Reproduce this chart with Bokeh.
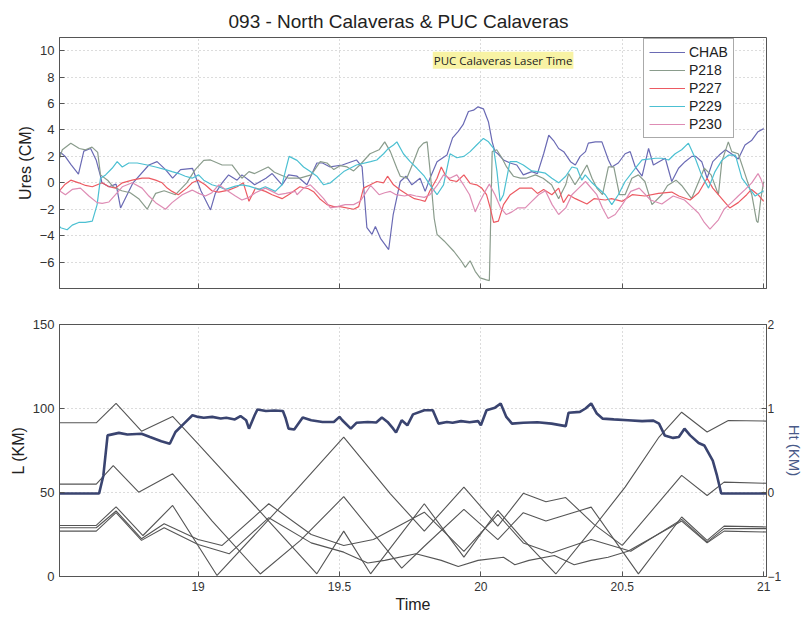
from bokeh.plotting import figure
from bokeh.layouts import column
from bokeh.models import Range1d, LinearAxis, FixedTicker, Label, Title
from bokeh.embed import file_html
from bokeh.resources import INLINE

# ---------------- data: top panel (Ures, cm) ----------------
chab_t = [18.51, 18.514, 18.53, 18.55, 18.577, 18.596, 18.62, 18.64, 18.655, 18.66, 18.685, 18.71, 18.726, 18.77, 18.826, 18.855,
          18.885, 18.91, 18.938, 18.98, 19.01, 19.044, 19.061, 19.085, 19.108, 19.138, 19.155, 19.18, 19.2, 19.24, 19.262, 19.297,
          19.32, 19.35, 19.385, 19.42, 19.44, 19.467, 19.51, 19.56, 19.58, 19.597, 19.615, 19.627, 19.645, 19.674, 19.69, 19.715,
          19.735, 19.756, 19.785, 19.803, 19.82, 19.845, 19.88, 19.90, 19.92, 19.937, 19.956, 19.974, 19.99, 20.009, 20.027,
          20.04, 20.05, 20.06, 20.08, 20.103, 20.127, 20.15, 20.18, 20.2, 20.222, 20.24, 20.257, 20.275, 20.293, 20.317, 20.334,
          20.351, 20.37, 20.38, 20.405, 20.428, 20.451, 20.463, 20.486, 20.51, 20.528, 20.546, 20.57, 20.593, 20.61, 20.63, 20.652,
          20.675, 20.699, 20.722, 20.746, 20.76, 20.781, 20.8, 20.82, 20.843, 20.865, 20.886, 20.91, 20.934, 20.957, 20.98, 21.0]
chab_u = [2.0, 2.3, 2.0, 1.4, 0.65, 2.4, 2.6, 1.7, 0.5, 0.0, -0.3, -0.1, -1.9, 0.0, 1.35, 1.6, 1.0, 0.35, 1.0, 1.1, -0.6, -2.05, -0.8,
          0.0, 0.6, 0.2, 0.6, 0.2, -0.15, 0.35, 0.7, -0.15, 0.6, 0.5, -0.15, 1.5, 1.5, 1.2, 1.35, 1.73, 1.2, -3.4, -3.9, -3.3, -4.2,
          -5.05, -2.4, 0.1, 0.5, -0.15, 0.35, -0.65, 0.35, 1.6, 2.1, 3.4, 3.9, 4.4, 5.4, 5.5, 5.75, 5.6, 4.6, 3.1, 2.36, 2.2, 1.73,
          1.5, 1.35, 0.6, 0.85, 0.7, 2.2, 3.6, 3.2, 2.6, 2.36, 1.6, 1.35, 2.0, 2.36, 3.0, 3.1, 3.1, 1.73, 1.2, 1.5, 2.2, 2.36, 1.2,
          0.5, 2.6, 1.35, 1.6, 1.86, 0.1, 1.1, 1.6, 2.0, 2.0, 1.6, 0.35, 1.6, 2.1, 2.5, 2.2, 1.8, 2.86, 3.2, 3.87, 4.1]

p218_t = [18.51, 18.52, 18.55, 18.58, 18.602, 18.625, 18.645, 18.655, 18.68, 18.7, 18.73, 18.76, 18.79, 18.82, 18.85, 18.88, 18.92,
          18.96, 18.99, 19.02, 19.044, 19.085, 19.12, 19.155, 19.18, 19.2, 19.248, 19.27, 19.32, 19.36, 19.4, 19.432, 19.456, 19.48,
          19.502, 19.527, 19.55, 19.572, 19.608, 19.64, 19.66, 19.68, 19.703, 19.715, 19.738, 19.762, 19.78, 19.797, 19.81, 19.82,
          19.835, 19.845, 19.87, 19.905, 19.93, 19.945, 19.962, 19.98, 19.997, 20.02, 20.03, 20.04, 20.056, 20.074, 20.091, 20.115,
          20.14, 20.16, 20.193, 20.22, 20.25, 20.275, 20.3, 20.31, 20.333, 20.355, 20.375, 20.393, 20.41, 20.43, 20.451, 20.47,
          20.49, 20.51, 20.534, 20.557, 20.58, 20.605, 20.64, 20.66, 20.69, 20.71, 20.745, 20.79, 20.814, 20.84, 20.852, 20.875,
          20.887, 20.91, 20.935, 20.958, 20.975, 20.98, 20.99, 21.0]
p218_u = [1.86, 2.5, 3.0, 2.6, 2.5, 2.7, 2.3, 0.6, 0.2, -0.3, -0.6, -0.75, -1.2, -2.0, -0.8, -0.6, -0.9, 0.0, 1.0, 1.7, 1.73, 1.35,
          1.35, 0.35, 0.85, 0.7, 1.2, 0.8, 0.35, 0.35, 0.6, 1.6, 1.5, 1.0, 1.3, 1.2, 0.9, 1.35, 2.2, 2.5, 3.1, 2.36, 1.1, 0.5, 0.35,
          1.6, 2.6, 3.0, 3.1, 1.0, -2.7, -3.9, -4.4, -5.2, -5.9, -6.4, -5.9, -6.7, -7.2, -7.35, -7.4, 2.36, 2.5, 1.9, 1.2, 0.5, 0.35,
          0.35, 0.6, 0.35, -0.15, -1.2, -0.15, 0.7, -0.15, 0.6, 1.35, 0.35, -0.4, -0.9, 1.2, 1.2, -0.9, -0.9, 0.35, 0.6, 0.1, -1.65,
          -0.9, -0.2, 0.2, -0.2, -1.2, 1.1, 0.6, -0.9, 1.6, 3.1, 2.36, 2.2, 0.6, -0.9, -2.9, -3.0, -1.2, 0.1]

p227_t = [18.51, 18.514, 18.53, 18.55, 18.578, 18.602, 18.626, 18.661, 18.685, 18.708, 18.732, 18.767, 18.802, 18.826, 18.85, 18.873,
          18.891, 18.908, 18.93, 18.96, 18.979, 19.0, 19.025, 19.049, 19.073, 19.108, 19.138, 19.16, 19.18, 19.203, 19.238, 19.262,
          19.297, 19.32, 19.36, 19.39, 19.41, 19.43, 19.456, 19.48, 19.502, 19.55, 19.568, 19.585, 19.609, 19.632, 19.656, 19.67,
          19.691, 19.715, 19.741, 19.765, 19.786, 19.803, 19.82, 19.845, 19.86, 19.874, 19.891, 19.915, 19.94, 19.962, 19.985,
          20.003, 20.02, 20.033, 20.045, 20.062, 20.08, 20.104, 20.138, 20.18, 20.18, 20.2, 20.222, 20.251, 20.275, 20.292, 20.31,
          20.334, 20.375, 20.4, 20.44, 20.462, 20.5, 20.535, 20.58, 20.628, 20.675, 20.7, 20.74, 20.77, 20.8, 20.82, 20.86, 20.88,
          20.91, 20.94, 20.957, 20.98, 21.0]
p227_u = [-0.6, -0.5, -0.1, 0.2, 0.0, -0.2, -0.3, 0.0, -0.3, -0.4, 0.0, 0.2, 0.35, 0.35, 0.2, 0.0, -0.4, -0.65, -0.9, -0.4, 0.0, 0.2,
          -0.15, -0.6, -0.7, -0.55, -0.3, 0.0, -1.4, -0.4, -0.65, -0.9, -1.2, -0.9, -0.3, -0.45, -0.7, -1.2, -1.65, -1.8, -1.8, -2.0,
          -1.8, -0.4, -0.15, 0.1, 0.0, 0.5, -0.15, -0.55, -0.9, -1.2, -1.3, -1.4, -0.6, 0.35, 1.2, 0.6, 0.2, 0.1, 0.6, -0.05, -0.15,
          -0.4, -0.9, -1.9, -3.0, -2.9, -1.65, -0.9, -0.4, -0.4, -0.4, -0.8, -0.5, -0.9, -0.4, -1.5, -0.9, -1.2, -1.6, -1.2, -1.3,
          -1.2, -1.4, -0.9, -1.0, -0.8, -0.7, -1.0, -1.3, -0.75, 0.35, -0.4, -1.4, -1.9, -1.5, -0.9, -0.5, -0.9, -1.4]

p229_t = [18.51, 18.514, 18.537, 18.555, 18.578, 18.601, 18.626, 18.643, 18.655, 18.673, 18.696, 18.714, 18.732, 18.755, 18.785,
          18.82, 18.85, 18.885, 18.908, 18.932, 18.955, 18.979, 19.002, 19.02, 19.049, 19.073, 19.097, 19.132, 19.155, 19.18,
          19.215, 19.238, 19.273, 19.297, 19.31, 19.322, 19.35, 19.373, 19.397, 19.42, 19.444, 19.468, 19.515, 19.56, 19.61,
          19.632, 19.656, 19.673, 19.691, 19.703, 19.726, 19.75, 19.774, 19.8, 19.82, 19.845, 19.868, 19.891, 19.915, 19.94, 19.962,
          19.985, 20.009, 20.027, 20.045, 20.057, 20.068, 20.08, 20.103, 20.127, 20.15, 20.18, 20.2, 20.228, 20.251, 20.275, 20.3,
          20.322, 20.34, 20.357, 20.369, 20.393, 20.44, 20.463, 20.486, 20.51, 20.55, 20.57, 20.618, 20.64, 20.664, 20.687,
          20.71, 20.734, 20.758, 20.78, 20.805, 20.828, 20.852, 20.876, 20.9, 20.923, 20.97, 21.0]
p229_u = [-3.3, -3.4, -3.55, -3.2, -3.0, -3.0, -2.9, -1.65, 0.35, 0.6, 1.1, 1.6, 1.2, 1.5, 1.5, 1.35, 1.2, 1.0, 0.85, 0.7, 0.5, 0.35,
          0.6, 0.2, -0.15, -0.3, -0.5, -0.25, -0.15, -0.25, -0.5, -0.3, -0.65, -0.15, 1.0, 2.0, 1.7, 1.2, 0.85, 0.5, -0.15, 0.0,
          0.85, 1.35, 1.6, 1.73, 2.2, 2.6, 2.86, 3.1, 2.2, 1.6, 1.1, 0.5, -0.15, -0.9, -0.15, 2.2, 1.9, 2.0, 2.36, 2.86, 3.36, 3.1,
          2.6, 0.85, -1.4, -0.9, 1.6, 1.6, 1.35, 0.9, 0.85, 0.73, 0.35, 0.0, 0.5, 1.2, 1.1, 0.2, 0.6, 0.0, -0.9, -1.65, -0.9, 0.1,
          1.2, 1.73, 1.86, 1.86, 1.73, 2.2, 2.5, 3.0, 1.86, 0.6, -0.4, 0.85, 1.7, 2.1, 2.1, 0.35, -1.0, -0.6, -0.3, -0.2, 0.2, 0.1,
          0.2]

p230_t = [18.51, 18.514, 18.531, 18.555, 18.584, 18.614, 18.643, 18.661, 18.685, 18.708, 18.732, 18.767, 18.802, 18.826, 18.85,
          18.885, 18.908, 18.944, 18.979, 19.002, 19.026, 19.049, 19.073, 19.097, 19.132, 19.155, 19.18, 19.203, 19.238, 19.262,
          19.285, 19.31, 19.344, 19.35, 19.373, 19.397, 19.42, 19.444, 19.468, 19.492, 19.52, 19.55, 19.573, 19.61, 19.64, 19.66,
          19.68, 19.7, 19.73, 19.75, 19.77, 19.8, 19.82, 19.845, 19.868, 19.89, 19.915, 19.94, 19.96, 19.98, 19.997, 20.015, 20.03,
          20.05, 20.07, 20.09, 20.11, 20.13, 20.157, 20.18, 20.204, 20.228, 20.252, 20.275, 20.3, 20.322, 20.346, 20.37, 20.41,
          20.43, 20.45, 20.475, 20.5, 20.53, 20.56, 20.6, 20.64, 20.68, 20.72, 20.745, 20.77, 20.79, 20.81, 20.84, 20.86, 20.886,
          20.91, 20.935, 20.958, 20.98, 20.99, 21.0]
p230_u = [-0.5, -0.65, -0.9, -0.5, -0.4, -1.0, -1.5, -1.55, -1.45, -0.9, -0.3, 0.0, -0.4, -1.0, -1.5, -2.0, -1.5, -0.9, -0.55, -0.8,
          -1.0, -0.75, -0.15, -0.5, -1.0, -1.3, -1.1, -0.75, -0.4, -0.65, -0.9, -0.8, -0.65, -0.9, -0.4, -0.15, -0.65, -1.2, -1.9,
          -1.8, -1.65, -1.65, -1.4, -0.2, -0.9, -0.75, -0.65, -0.9, -1.0, -0.9, -1.0, -1.1, -0.9, -0.2, 0.6, 0.35, 0.6, -0.2, -0.9,
          -2.2, -1.4, -0.65, -0.1, -0.9, -1.9, -2.4, -2.2, -1.9, -1.9, -1.4, -0.9, -0.6, -1.65, -2.4, -1.9, -0.9, -0.4, 0.1, -0.9,
          -1.9, -2.7, -2.4, -1.65, -0.65, -0.4, -1.3, -1.6, -1.0, -1.3, -1.8, -2.3, -3.0, -3.5, -2.8, -2.0, -1.5, -1.0, -0.5, 0.0,
          0.7, 0.3, -0.3]

# ---------------- data: bottom panel ----------------
# aircraft height (km, right axis)
ht_t = [18.51, 18.65, 18.665, 18.68, 18.72, 18.75, 18.80, 18.83, 18.87, 18.90, 18.92, 18.95, 18.98, 19.0, 19.02, 19.05, 19.08, 19.10,
        19.13, 19.15, 19.17, 19.18, 19.20, 19.21, 19.24, 19.27, 19.30, 19.31, 19.32, 19.34, 19.37, 19.40, 19.44, 19.48, 19.50, 19.51,
        19.54, 19.56, 19.60, 19.63, 19.65, 19.67, 19.69, 19.70, 19.72, 19.74, 19.76, 19.80, 19.83, 19.85, 19.88, 19.90, 19.93, 19.96,
        19.99, 20.0, 20.02, 20.05, 20.07, 20.09, 20.11, 20.15, 20.20, 20.25, 20.30, 20.31, 20.35, 20.37, 20.39, 20.41, 20.43, 20.47,
        20.52, 20.57, 20.61, 20.63, 20.65, 20.68, 20.70, 20.72, 20.74, 20.77, 20.79, 20.82, 20.835, 20.85, 21.01]
ht_km = [-0.012, -0.012, 0.2, 0.68, 0.71, 0.69, 0.70, 0.66, 0.61, 0.58, 0.72, 0.82, 0.92, 0.90, 0.89, 0.90, 0.88, 0.89, 0.87, 0.91,
         0.86, 0.76, 0.92, 0.988, 0.97, 0.976, 0.97, 0.88, 0.76, 0.75, 0.892, 0.86, 0.84, 0.84, 0.90, 0.86, 0.76, 0.83, 0.84, 0.834,
         0.892, 0.84, 0.76, 0.714, 0.86, 0.80, 0.93, 0.98, 0.98, 0.82, 0.84, 0.83, 0.85, 0.836, 0.85, 0.80, 0.98, 1.01, 1.06, 0.90,
         0.82, 0.83, 0.836, 0.82, 0.79, 0.95, 0.96, 1.0, 1.06, 0.94, 0.88, 0.87, 0.86, 0.85, 0.856, 0.82, 0.68, 0.65, 0.66, 0.76,
         0.68, 0.59, 0.56, 0.38, 0.2, -0.012, -0.012]

# distances to the five stations (km, left axis)
la_t = [18.51, 18.64, 18.71, 18.80, 18.91, 19.0, 19.25, 19.42, 19.515, 19.61, 19.80, 19.94, 20.06, 20.15, 20.265, 20.39, 20.51,
        20.63, 20.71, 20.80, 20.875, 21.01]
la_km = [91.5, 91.5, 103, 86.5, 95.3, 79, 33, 1.6, 27, 1.6, 43.3, 11.5, 39.3, 22, 1.5, 27.4, 53.2, 83, 97.8, 86, 92.9, 92.5]
lb_t = [18.51, 18.64, 18.70, 18.79, 18.91, 19.05, 19.22, 19.362, 19.515, 19.72, 19.80, 19.94, 20.06, 20.15, 20.23, 20.39, 20.557,
        20.71, 20.80, 20.86, 21.01]
lb_km = [55, 55, 66, 50.2, 61.1, 33, 1.5, 21.5, 47.5, 5, 18, 40, 22, 38, 33, 41.3, 1.6, 35.4, 21.5, 30, 29.5]
lc_t = [18.51, 18.64, 18.71, 18.805, 18.91, 19.067, 19.344, 19.515, 19.68, 19.80, 19.94, 20.06, 20.15, 20.23, 20.30, 20.40, 20.50,
        20.71, 20.80, 20.86, 21.01]
lc_km = [30.4, 30.4, 41.5, 24.4, 42.3, 0.6, 51, 83, 49.2, 27, 53.2, 30, 49.5, 44.5, 47, 31, 18.5, 60.2, 48.2, 56.2, 55.5]
ld_t = [18.51, 18.64, 18.71, 18.80, 18.88, 19.0, 19.085, 19.25, 19.40, 19.515, 19.62, 19.80, 19.94, 20.06, 20.15, 20.25, 20.39,
        20.53, 20.71, 20.80, 20.86, 21.01]
ld_km = [29, 29, 39, 22.5, 31.4, 22, 18.5, 43.3, 25, 18.5, 22, 38.3, 15, 37, 20, 14, 22, 15, 34, 20.5, 28.5, 28.5]
le_t = [18.51, 18.64, 18.71, 18.80, 18.88, 19.0, 19.11, 19.25, 19.40, 19.515, 19.60, 19.66, 19.77, 19.86, 19.92, 19.99, 20.08,
        20.12, 20.17, 20.26, 20.33, 20.39, 20.45, 20.52, 20.71, 20.80, 20.86, 21.01]
le_km = [27, 27, 38, 21.5, 29, 19, 13.5, 35, 20, 14.5, 8, 9.6, 13.5, 9.6, 6, 9.6, 11.5, 7, 9.6, 12.5, 7, 9.6, 11.5, 15, 33, 20,
         27, 26.5]

x_ticks = [19, 19.5, 20, 20.5, 21]
x_tick_labels = {19: "19", 19.5: "19.5", 20: "20", 20.5: "20.5", 21: "21"}
ures_ticks = [-6, -4, -2, 0, 2, 4, 6, 8, 10]
l_ticks = [0, 50, 100, 150]
ht_ticks = [-1, 0, 1, 2]

FONT = "Liberation Sans"
AX = "#555555"
GRID = "#b8b8b8"


def style_axis(ax, size="12px"):
    ax.major_tick_in = 5
    ax.major_tick_out = 0
    ax.minor_tick_line_color = None
    ax.axis_line_color = AX
    ax.major_tick_line_color = AX
    ax.major_label_text_font = FONT
    ax.major_label_text_font_size = size
    ax.major_label_text_color = "#333333"
    ax.axis_label_text_font = FONT
    ax.axis_label_text_font_style = "normal"
    ax.axis_label_text_font_size = "16px"
    ax.axis_label_text_color = "#222222"


# ---------------- top figure ----------------
p1 = figure(width=806, height=300, output_backend="svg", toolbar_location=None,
            x_range=Range1d(18.51, 21.01), y_range=Range1d(-8, 11),
            min_border_left=59, min_border_right=36, min_border_top=37, min_border_bottom=12)
p1.add_layout(Title(text="093 - North Calaveras & PUC Calaveras", align="left", text_font=FONT,
                    text_font_size="19px", text_font_style="normal", text_color="#222222", offset=169,
                    standoff=12), "above")
p1.outline_line_color = AX

series = [("CHAB", chab_t, chab_u, "#6a6ab4"),
          ("P218", p218_t, p218_u, "#8a9c8c"),
          ("P227", p227_t, p227_u, "#ec5a62"),
          ("P229", p229_t, p229_u, "#4cc0d2"),
          ("P230", p230_t, p230_u, "#de8cb4")]
for name, tt, uu, col in series:
    p1.line(tt, uu, line_color=col, line_width=1.2, legend_label=name)

p1.xaxis.ticker = FixedTicker(ticks=x_ticks)
p1.xaxis.major_label_overrides = {19: "", 19.5: "", 20: "", 20.5: "", 21: ""}
p1.yaxis.ticker = FixedTicker(ticks=ures_ticks)
p1.yaxis.axis_label = "Ures (CM)"
style_axis(p1.xaxis[0])
style_axis(p1.yaxis[0], "13px")
p1.yaxis.axis_label_standoff = 3
p1.xaxis.major_label_text_color = None
p1.xaxis.major_label_standoff = 0
p1.xgrid.ticker = FixedTicker(ticks=x_ticks)
p1.ygrid.ticker = FixedTicker(ticks=ures_ticks)
for g in (p1.xgrid[0], p1.ygrid[0]):
    g.grid_line_color = GRID
    g.grid_line_dash = "1 3"

lg = p1.legend[0]
lg.location = (584, 150)
lg.label_text_font = FONT
lg.label_text_font_size = "14px"
lg.label_text_color = "#222222"
lg.glyph_width = 36
lg.glyph_height = 14
lg.label_height = 14
lg.label_standoff = 4
lg.spacing = 2
lg.padding = 5
lg.margin = 0
lg.border_line_color = "#555555"
lg.border_line_width = 1
lg.background_fill_alpha = 1

note = Label(x=19.83, y=9.27, text="PUC Calaveras Laser Time", text_font="Open Sans", text_font_size="11.5px",
             text_baseline="middle", text_color="#222222", background_fill_color="#f7f29a",
             background_fill_alpha=0.9, padding=1)
p1.add_layout(note)

# ---------------- bottom figure ----------------
p2 = figure(width=806, height=317, output_backend="svg", toolbar_location=None,
            x_range=p1.x_range, y_range=Range1d(0, 150),
            min_border_left=59, min_border_right=36, min_border_top=24, min_border_bottom=41)
p2.extra_y_ranges = {"ht": Range1d(-1, 2)}
p2.outline_line_color = AX

for tt, ll in [(la_t, la_km), (lb_t, lb_km), (lc_t, lc_km), (ld_t, ld_km), (le_t, le_km)]:
    p2.line(tt, ll, line_color="#555555", line_width=1.1)
p2.line(ht_t, ht_km, y_range_name="ht", line_color="#3a4470", line_width=2.6)

p2.xaxis.ticker = FixedTicker(ticks=x_ticks)
p2.xaxis.major_label_overrides = x_tick_labels
p2.xaxis.axis_label = "Time"
p2.yaxis.ticker = FixedTicker(ticks=l_ticks)
p2.yaxis.axis_label = "L (KM)"
style_axis(p2.xaxis[0])
style_axis(p2.yaxis[0], "13px")
p2.yaxis.axis_label_standoff = 3
p2.xaxis.major_label_standoff = 5
p2.xaxis.axis_label_standoff = 2

rax = LinearAxis(y_range_name="ht", ticker=FixedTicker(ticks=ht_ticks), axis_label="Ht (KM)")
style_axis(rax, "12px")
rax.axis_label_text_font_size = "15px"
rax.axis_label_text_color = "#4a5a88"
rax.major_label_standoff = 1
rax.axis_label_standoff = 2
p2.add_layout(rax, "right")

p2.xgrid.ticker = FixedTicker(ticks=x_ticks)
p2.ygrid.ticker = FixedTicker(ticks=[50, 100])
for g in (p2.xgrid[0], p2.ygrid[0]):
    g.grid_line_color = GRID
    g.grid_line_dash = "1 3"

layout = column(p1, p2, spacing=0)
open("out.html", "w").write(file_html(layout, INLINE))
